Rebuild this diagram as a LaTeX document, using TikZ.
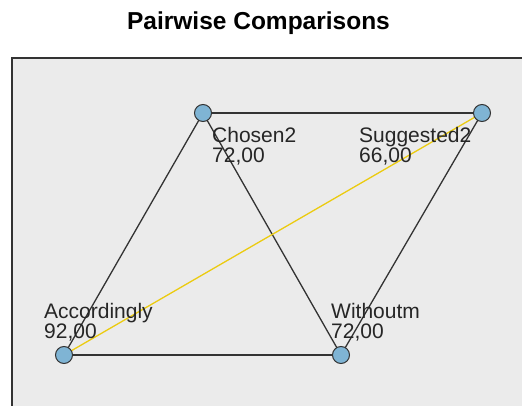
\documentclass[tikz,border=0pt]{standalone}
\usepackage{fontspec}
\setmainfont{Liberation Sans}
\begin{document}
\begin{tikzpicture}[x=1pt,y=1pt,
  vert/.style={circle,draw=black!80,line width=1pt,fill=nodeblue,minimum size=17pt,inner sep=0pt},
  edge/.style={draw=black!80,line width=1.3pt},
  hedge/.style={draw=hiyellow,line width=1.3pt},
  lab/.style={anchor=base west,inner sep=0pt,align=left,font=\fontsize{21}{20}\selectfont,text=black!85}]
\definecolor{nodeblue}{HTML}{7FB4D4}
\definecolor{hiyellow}{HTML}{EBCB10}
\definecolor{panel}{HTML}{EBEBEB}
\useasboundingbox (0,0) rectangle (522,405);
\fill[white] (0,0) rectangle (522,405);
\node[anchor=base,inner sep=0pt,font=\bfseries\fontsize{24.5}{24.5}\selectfont] (title) at (258.5,375) {Pairwise Comparisons};
\fill[panel] (12,-5) rectangle (530,347);
\draw[draw=black!80,line width=2pt] (12,-5) -- (12,347) -- (530,347);
\coordinate (cC) at (203,292);
\coordinate (cS) at (482,292);
\coordinate (cA) at (64,50);
\coordinate (cW) at (341,50);
\draw[edge] (cC) -- (cS);
\draw[edge] (cC) -- (cA);
\draw[edge] (cC) -- (cW);
\draw[edge] (cS) -- (cW);
\draw[edge] (cA) -- (cW);
\draw[hedge] (cA) -- (cS);
\node[vert] (C) at (cC) {};
\node[vert] (S) at (cS) {};
\node[vert] (A) at (cA) {};
\node[vert] (W) at (cW) {};
\node[lab] (lC) at (212,243) {Chosen2\\72,00};
\node[lab] (lS) at (359,243) {Suggested2\\66,00};
\node[lab] (lA) at (44,67) {Accordingly\\92,00};
\node[lab] (lW) at (331,67) {Withoutm\\72,00};
\end{tikzpicture}
\end{document}
